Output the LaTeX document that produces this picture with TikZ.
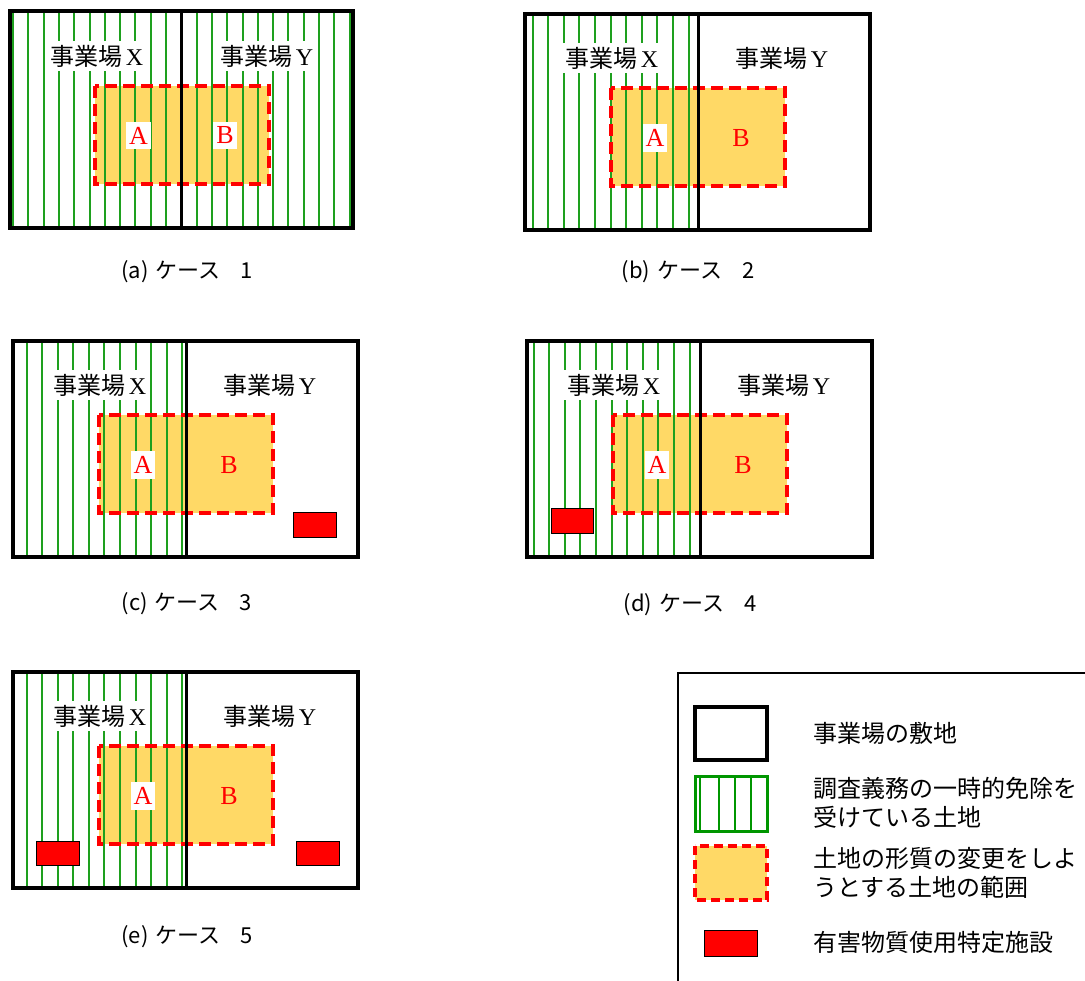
\documentclass[tikz,border=0pt]{standalone}
\usepackage{fontspec}
\setmainfont{Liberation Serif}
\newfontfamily\jp{Noto Sans CJK JP}
\definecolor{hatchgreen}{RGB}{30,160,30}
\definecolor{legendgreen}{RGB}{0,150,0}
\definecolor{zonefill}{RGB}{255,217,102}
\definecolor{zonered}{RGB}{255,0,0}
\tikzset{
  sitebox/.style={draw=black, line width=4pt},
  divline/.style={draw=black, line width=3pt},
  hatchline/.style={draw=hatchgreen, line width=2pt},
  zoneborder/.style={draw=zonered, line width=4.5pt, dash pattern=on 12pt off 6pt},
  legendzone/.style={draw=zonered, line width=4pt, dash pattern=on 9pt off 5pt},
  facility/.style={fill=zonered, draw=black, line width=1pt},
  sitelabel/.style={font=\jp\fontsize{24}{24}\selectfont, inner xsep=4pt, inner ysep=4pt},
  letterlabel/.style={font=\fontsize{26}{26}\selectfont, text=zonered, inner xsep=3pt, inner ysep=5pt},
  captiontext/.style={font=\jp\fontsize{22}{22}\selectfont},
  legendtext/.style={font=\jp\fontsize{24}{29}\selectfont, anchor=west, align=left, inner sep=0pt},
}
\newcommand{\hatchset}[4]{% #1 start, #2 last index, #3 step, #4 height
  \foreach \k in {0,...,#2} {
    \pgfmathtruncatemacro{\hx}{round(#1+#3*\k)}
    \draw[hatchline] (\hx,0) -- (\hx,#4);
  }}
% #1 name, #2 shift, #3 hatch start, #4 last index, #5 hatch step, #6 fill of B label
\newcommand{\casepanel}[6]{%
\begin{scope}[shift={#2}]
  \fill[zonefill] (86,74) rectangle (260,172);
  \hatchset{#3}{#4}{#5}{216}
  \node[sitelabel, fill=white] (#1x) at (87,44) {事業場\hspace{3pt}{\rmfamily X}};
  \node[sitelabel, fill=white] (#1y) at (257,44) {事業場\hspace{3pt}{\rmfamily Y}};
  \node[letterlabel, fill=white] (#1a) at (130,124) {A};
  \node[letterlabel, fill=#6] (#1b) at (216,124) {B};
  \draw[zoneborder] (86,74) rectangle (260,172);
\end{scope}}
\newcommand{\siteframe}[1]{%
\begin{scope}[shift={#1}]
  \draw[divline] (173,0) -- (173,216);
  \draw[sitebox] (0,0) rectangle (345,216);
\end{scope}}
\begin{document}
\begin{tikzpicture}[x=1pt, y=-1pt]
\useasboundingbox (0,0) rectangle (1085,981);
\fill[white] (0,0) rectangle (1085,981);
% (a)
\begin{scope}[shift={(10,11)}]
  \fill[zonefill] (85,75) rectangle (259,173);
  \hatchset{3}{22}{15.3}{217}
  \node[sitelabel, fill=white] (ax) at (87,45) {事業場\hspace{3pt}{\rmfamily X}};
  \node[sitelabel, fill=white] (ay) at (257,45) {事業場\hspace{3pt}{\rmfamily Y}};
  \node[letterlabel, fill=white] (aa) at (128.5,124.5) {A};
  \node[letterlabel, fill=white] (ab) at (215,124.5) {B};
  \draw[zoneborder] (85,75) rectangle (259,173);
  \draw[divline] (171.5,0) -- (171.5,217);
  \draw[sitebox] (0,0) rectangle (343,217);
\end{scope}
% (b)
\casepanel{b}{(525,14)}{7.5}{10}{15.6}{zonefill}
\siteframe{(525,14)}
% (c)
\casepanel{c}{(13,341)}{13.7}{10}{15.55}{zonefill}
\node[facility, minimum width=43pt, minimum height=24pt, inner sep=0pt] (cf) at (314.5,525) {};
\siteframe{(13,341)}
% (d)
\casepanel{d}{(527,341)}{6.5}{10}{15.6}{zonefill}
\node[facility, minimum width=42pt, minimum height=24pt, inner sep=0pt] (df) at (572,521) {};
\siteframe{(527,341)}
% (e)
\casepanel{e}{(13,672)}{13.7}{10}{15.55}{zonefill}
\node[facility, minimum width=43pt, minimum height=24pt, inner sep=0pt] (ef1) at (57.5,853) {};
\node[facility, minimum width=43pt, minimum height=24pt, inner sep=0pt] (ef2) at (317.5,853) {};
\siteframe{(13,672)}
% captions
\node[captiontext] (capa) at (187,272) {(a)\hspace{7pt}ケース\hspace{20pt}1};
\node[captiontext] (capb) at (688,272) {(b)\hspace{7pt}ケース\hspace{20pt}2};
\node[captiontext] (capc) at (187,604) {(c)\hspace{7pt}ケース\hspace{20pt}3};
\node[captiontext] (capd) at (690,605) {(d)\hspace{7pt}ケース\hspace{20pt}4};
\node[captiontext] (cape) at (187,937) {(e)\hspace{7pt}ケース\hspace{20pt}5};
% legend frame
\draw[line width=1.5pt] (1095,673) -- (678,673) -- (678,995);
% legend symbols
\draw[sitebox] (695,707) rectangle (767,760);
\foreach \lx in {700,719,735,751} \draw[draw=legendgreen, line width=1.5pt] (\lx,776) -- (\lx,831);
\draw[draw=legendgreen, line width=3pt] (695,776) rectangle (767,831);
\fill[zonefill] (695,846) rectangle (767,900);
\draw[legendzone] (695,846) rectangle (767,900);
\node[facility, minimum width=53pt, minimum height=26pt, inner sep=0pt] (lgf) at (730.5,943) {};
% legend texts
\node[legendtext] (lg1) at (813,733) {事業場の敷地};
\node[legendtext] (lg2) at (813,802.5) {調査義務の一時的免除を\\受けている土地};
\node[legendtext] (lg3) at (813,872.5) {土地の形質の変更をしよ\\うとする土地の範囲};
\node[legendtext] (lg4) at (813,942) {有害物質使用特定施設};
\end{tikzpicture}
\end{document}
